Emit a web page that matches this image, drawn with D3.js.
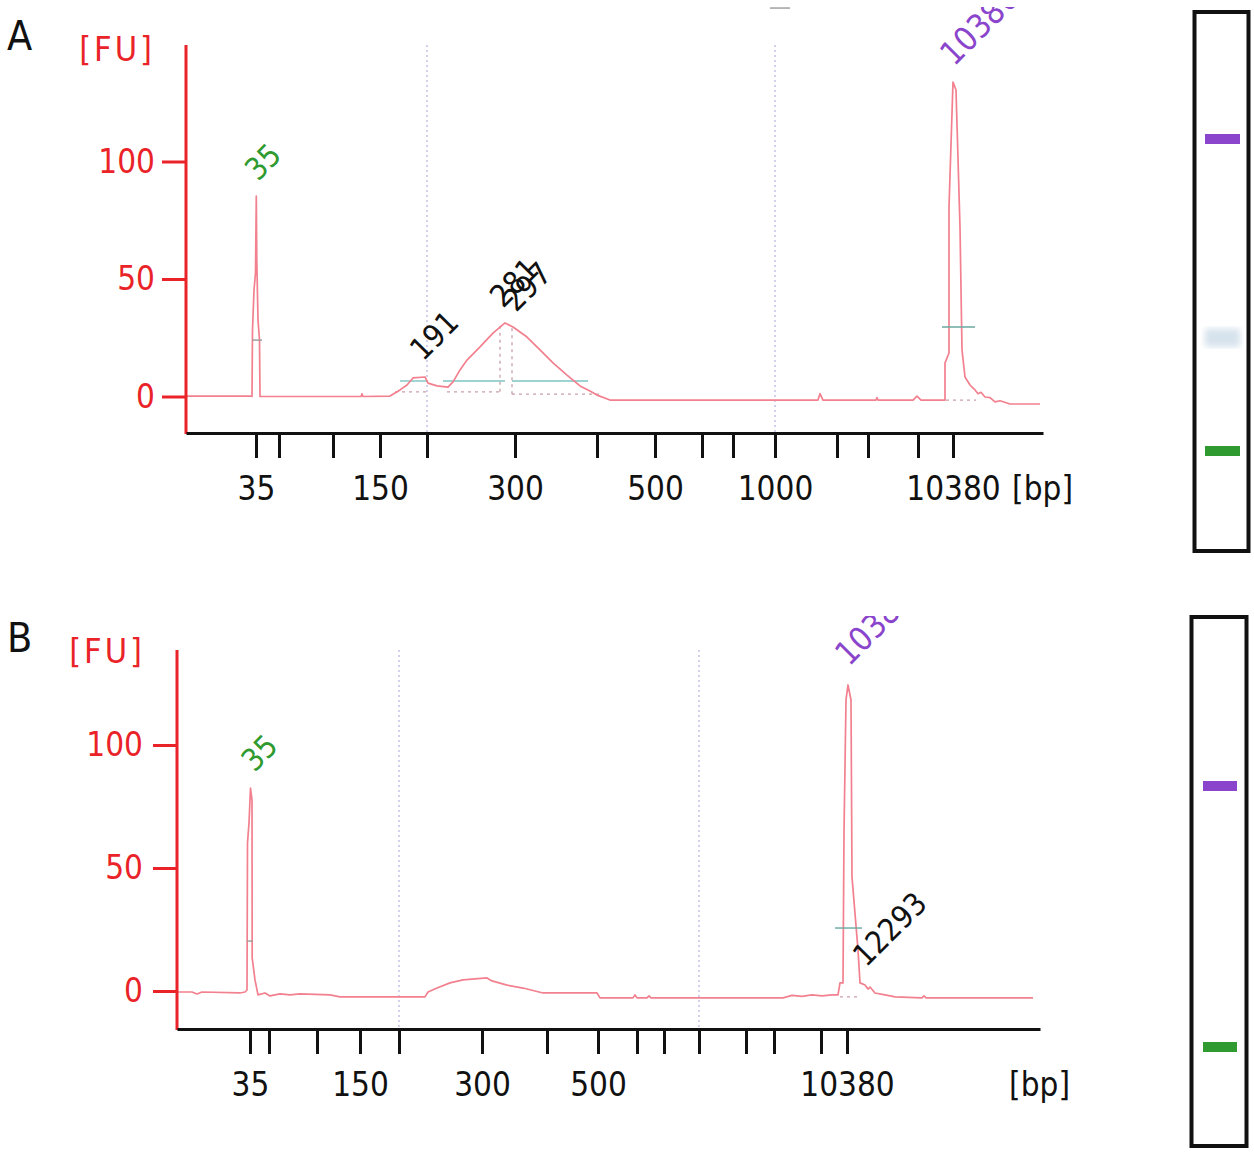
<!DOCTYPE html>
<html>
<head>
<meta charset="utf-8">
<script src="https://cdn.jsdelivr.net/npm/d3@7"></script>
<style>
  body { margin: 0; background: #fff; }
  svg { display: block; font-family: "DejaVu Sans Condensed", "DejaVu Sans", sans-serif; }
</style>
</head>
<body>
<div id="main-container"></div>
<script>
const WIDTH = 1254;
const HEIGHT = 1152;
const RED = '#ea2329';
const TRACE_COLOR = '#f2808f';
const GREEN = '#2f9a2f';
const PURPLE = '#8a45cc';
const GRID_COLOR = '#b4b4e2';
const REGION_COLOR = '#7cc4c4';
const DOT_COLOR = '#c8a0a8';

// ladder (bp) and where each size ran, migration time in s
const LADDER_BP = [35, 50, 100, 150, 200, 300, 400, 500, 600, 700, 1000, 2000, 3000, 7000, 10380];
const LADDER_TIME_A = [47.0, 49.3, 54.7, 59.4, 64.1, 72.9, 81.1, 86.9, 91.6, 94.7, 98.9, 105.1, 108.2, 113.2, 116.7];
const LADDER_TIME_B = [47.3, 49.2, 54.0, 58.3, 62.2, 70.5, 77.0, 82.1, 86.0, 88.7, 92.2, 96.9, 99.7, 104.4, 107.0];
const SHOWN_BP_A = [35, 150, 300, 500, 1000, 10380];
const SHOWN_BP_B = [35, 150, 300, 500, 10380];
const GRID_BP = [200, 1000];
const FU_TICKS = [0, 50, 100];
const TIME_RANGE_A = [40, 125.7];
const TIME_RANGE_B = [40, 126.3];

// electropherogram traces [time s, FU]
const TRACE_A = [
  [40.0, 0.2], [46.4, 0.2], [46.6, 0], [46.65, 28.3], [46.8, 45.3], [46.95, 52.6], [47.03, 85.3],
  [47.08, 58], [47.2, 32.6], [47.35, 24], [47.4, 0], [47.6, 0], [57.5, 0], [57.6, 1.2], [57.7, 0],
  [60.4, 0.2], [60.9, 1.5], [61.4, 2.8], [62.1, 4.9], [62.7, 7.9], [63.9, 8.3], [64.2, 5.7],
  [65.1, 4.5], [66.2, 4.0], [66.7, 6.2], [67.4, 11.3], [68.1, 15.5], [69.4, 21.1], [70.7, 27.0],
  [71.9, 31.3], [72.7, 29.6], [74.1, 25.3], [75.4, 19.8], [76.7, 14.3], [78.1, 9.1], [79.4, 4.5],
  [80.4, 2.3], [81.1, 0.6], [82.4, -1.5], [103.2, -1.5], [103.4, 1.2], [103.7, -1.5],
  [109.0, -1.5], [109.1, -0.5], [109.2, -1.5], [112.7, -1.5], [113.1, 0.2], [113.5, -1.5],
  [115.9, -1.5], [115.9, 14.3], [116.3, 18.5], [116.3, 80.6], [116.7, 133.8], [117.0, 130.4],
  [117.4, 72], [117.6, 19.8], [117.9, 8.3], [118.4, 4.9], [118.9, 2.8], [119.2, 1.2], [119.5, 1.8],
  [119.9, -0.2], [120.4, -0.5], [120.9, -2.3], [121.4, -1.8], [122.4, -3.2], [125.4, -3.2]
];
const TRACE_B = [
  [40.0, -0.4], [41.5, -0.4], [42.0, -1.2], [42.5, -0.4], [46.3, -0.8], [46.8, -0.4], [47.0, 0.4],
  [47.05, 60.2], [47.2, 68.3], [47.35, 82.5], [47.5, 77.6], [47.52, 13.4], [47.8, 4.5], [48.1, -1.6],
  [48.8, -0.8], [49.3, -2.0], [50.3, -1.2], [51.3, -1.6], [52.3, -1.2], [55.3, -1.6], [56.3, -2.4],
  [64.8, -2.4], [65.1, -0.4], [66.0, 1.2], [67.3, 3.3], [68.6, 4.5], [71.0, 5.3], [71.5, 4.1],
  [73.0, 2.4], [74.6, 1.2], [76.6, -0.8], [82.0, -0.8], [82.3, -2.8], [85.6, -2.8], [85.8, -1.6],
  [86.0, -2.8], [87.0, -2.8], [87.2, -2.0], [87.4, -2.8], [100.6, -2.8], [101.5, -1.8], [102.5, -2.2],
  [103.5, -1.6], [104.5, -2.0], [105.5, -1.6], [106.1, -1.6], [106.3, 3.3], [106.6, 3.3], [106.7, 64.2],
  [106.9, 118.3], [107.1, 124.4], [107.4, 118.3], [107.5, 46.3], [108.1, 16.7], [108.3, 3.3],
  [108.8, 2.4], [109.1, 0.8], [109.3, 1.6], [109.8, -0.8], [110.8, -1.6], [111.8, -2.4],
  [114.5, -2.8], [114.7, -2.0], [114.9, -2.8], [125.6, -2.8]
];

// peak calls: label text, time and FU of the label foot, kind
const CALL_TEXT_A = ['35', '191', '281', '297', '10380'];
const CALL_TIME_A = [47.2, 63.7, 71.7, 73.0, 116.8];
const CALL_FU_A = [91.3, 14.7, 37.2, 35.5, 140.2];
const CALL_KIND_A = ['lower', 'peak', 'peak', 'peak', 'upper'];
const CALL_TEXT_B = ['35', '10380', '12293'];
const CALL_TIME_B = [47.75, 107.2, 108.9];
const CALL_FU_B = [88.6, 131.7, 9.3];
const CALL_KIND_B = ['lower', 'upper', 'peak'];

// smear region lines [from, to, FU], peak baselines and width markers
const REGION_A = [[61.4, 64.1, 6.6], [65.7, 71.9, 6.6], [72.6, 80.2, 6.6]];
const BASELINE_A = [[60.9, 64.1, 2.0], [66.1, 71.4, 2.0], [72.6, 81.4, 1.0], [116.0, 119.0, -1.5]];
const DROP_A = [[71.4, 2.0, 31.0], [72.6, 1.0, 29.6]];
const WIDTH_MARK_A = [[46.6, 47.6, 24.0], [115.6, 118.9, 29.6], [98.4, 100.4, 165.3]];
const REGION_B = [];
const BASELINE_B = [[106.3, 108.3, -2.4]];
const DROP_B = [];
const WIDTH_MARK_B = [[47.0, 47.6, 20.3], [105.8, 108.5, 25.6]];

// gel lane bands
const GEL_TIME_A = [47.0, 72.3, 116.7];
const GEL_KIND_A = ['lower', 'smear', 'upper'];
const GEL_TIME_B = [47.3, 107.0];
const GEL_KIND_B = ['lower', 'upper'];

const PANELS = [
  { name: 'A', ladder: LADDER_TIME_A, shown: SHOWN_BP_A, timeRange: TIME_RANGE_A, trace: TRACE_A,
    calls: [CALL_TEXT_A, CALL_TIME_A, CALL_FU_A, CALL_KIND_A],
    region: REGION_A, baseline: BASELINE_A, drop: DROP_A, marks: WIDTH_MARK_A,
    gel: [GEL_TIME_A, GEL_KIND_A],
    x0: 186, x1: 1043, axisY: 433, axisTop: 45, fu0: 396.5, fu100: 161.5, yPad: 7, clipTop: 7,
    letterY: 50, fuLabelX: 155, fuLabelY: 61, bpX: 1073,
    gelBox: [1194.5, 12, 54, 539], gelRange: [451, 139], bandX: [1205, 1240] },
  { name: 'B', ladder: LADDER_TIME_B, shown: SHOWN_BP_B, timeRange: TIME_RANGE_B, trace: TRACE_B,
    calls: [CALL_TEXT_B, CALL_TIME_B, CALL_FU_B, CALL_KIND_B],
    region: REGION_B, baseline: BASELINE_B, drop: DROP_B, marks: WIDTH_MARK_B,
    gel: [GEL_TIME_B, GEL_KIND_B],
    x0: 177, x1: 1040, axisY: 1029, axisTop: 650, fu0: 991, fu100: 745, yPad: 10, clipTop: 616,
    letterY: 652, fuLabelX: 145, fuLabelY: 663, bpX: 1070,
    gelBox: [1191.5, 617, 55, 529], gelRange: [1047, 786], bandX: [1203, 1237] }
];

const SVG = d3.select('#main-container')
  .append('svg')
  .attr('width', WIDTH)
  .attr('height', HEIGHT);

const DEFS = SVG.append('defs');
DEFS.append('filter')
  .attr('id', 'smear-blur')
  .append('feGaussianBlur')
  .attr('stdDeviation', 3);

const callColor = k => k === 'lower' ? GREEN : k === 'upper' ? PURPLE : '#111';

const drawPanel = (p) => {
  DEFS.append('clipPath')
    .attr('id', `clip-${p.name}`)
    .append('rect')
    .attr('x', 0).attr('y', p.clipTop)
    .attr('width', 1180).attr('height', HEIGHT);

  const g = SVG.append('g').attr('clip-path', `url(#clip-${p.name})`);

  const x = d3.scaleLinear().domain(p.timeRange).range([p.x0, p.x1]);
  const y = d3.scaleLinear().domain([0, 100]).range([p.fu0, p.fu100]);
  const fuTop = y.invert(p.axisTop);
  const fuBottom = y.invert(p.axisY);

  // dotted grid lines at 200 and 1000 bp
  g.selectAll('.grid')
    .data(GRID_BP.map(bp => p.ladder[LADDER_BP.indexOf(bp)]))
    .enter()
    .append('line')
    .attr('x1', d => x(d)).attr('x2', d => x(d))
    .attr('y1', y(fuTop)).attr('y2', y(fuBottom))
    .attr('stroke', GRID_COLOR)
    .attr('stroke-width', 1.2)
    .attr('stroke-dasharray', '2,3');

  // peak baselines and drop lines
  g.selectAll('.base')
    .data(p.baseline)
    .enter()
    .append('line')
    .attr('x1', d => x(d[0])).attr('x2', d => x(d[1]))
    .attr('y1', d => y(d[2])).attr('y2', d => y(d[2]))
    .attr('stroke', DOT_COLOR)
    .attr('stroke-width', 1.3)
    .attr('stroke-dasharray', '3,4');

  g.selectAll('.drop')
    .data(p.drop)
    .enter()
    .append('line')
    .attr('x1', d => x(d[0])).attr('x2', d => x(d[0]))
    .attr('y1', d => y(d[1])).attr('y2', d => y(d[2]))
    .attr('stroke', DOT_COLOR)
    .attr('stroke-width', 1.3)
    .attr('stroke-dasharray', '3,4');

  g.selectAll('.region')
    .data(p.region)
    .enter()
    .append('line')
    .attr('x1', d => x(d[0])).attr('x2', d => x(d[1]))
    .attr('y1', d => y(d[2])).attr('y2', d => y(d[2]))
    .attr('stroke', REGION_COLOR)
    .attr('stroke-width', 1.4);

  // trace
  const line = d3.line().x(d => x(d[0])).y(d => y(d[1]));
  g.append('path')
    .datum(p.trace)
    .attr('d', line)
    .attr('fill', 'none')
    .attr('stroke', TRACE_COLOR)
    .attr('stroke-width', 1.7)
    .attr('stroke-linejoin', 'round');

  g.selectAll('.mark')
    .data(p.marks)
    .enter()
    .append('line')
    .attr('x1', d => x(d[0])).attr('x2', d => x(d[1]))
    .attr('y1', d => y(d[2])).attr('y2', d => y(d[2]))
    .attr('stroke', (d, i) => i === 1 ? '#6aa8a0' : '#9a9a9a')
    .attr('stroke-width', 1.4);

  // y axis
  const yAxis = g.append('g')
    .attr('transform', `translate(${p.x0},0)`)
    .call(d3.axisLeft(y).tickValues(FU_TICKS).tickSize(24).tickPadding(p.yPad));
  yAxis.select('.domain').remove();
  yAxis.selectAll('line').attr('stroke', RED).attr('stroke-width', 3);
  yAxis.selectAll('text')
    .attr('fill', RED)
    .style('font-size', '33px')
    .style('font-family', '"DejaVu Sans Condensed", "DejaVu Sans", sans-serif');
  g.append('line')
    .attr('x1', p.x0).attr('x2', p.x0)
    .attr('y1', p.axisTop).attr('y2', p.axisY + 1)
    .attr('stroke', RED)
    .attr('stroke-width', 3);

  // x axis, ticks at the ladder positions
  const xAxis = g.append('g')
    .attr('transform', `translate(0,${p.axisY})`)
    .call(d3.axisBottom(x)
      .tickValues(p.ladder)
      .tickFormat((d, i) => p.shown.includes(LADDER_BP[i]) ? LADDER_BP[i] : '')
      .tickSize(25)
      .tickSizeOuter(0)
      .tickPadding(19));
  xAxis.select('.domain').attr('stroke', '#111').attr('stroke-width', 3);
  xAxis.selectAll('line').attr('stroke', '#111').attr('stroke-width', 3);
  xAxis.selectAll('text')
    .attr('fill', '#111')
    .style('font-size', '33px')
    .style('font-family', '"DejaVu Sans Condensed", "DejaVu Sans", sans-serif');

  g.append('text')
    .attr('x', p.bpX).attr('y', p.axisY + 67)
    .attr('text-anchor', 'end')
    .attr('fill', '#111')
    .style('font-size', '33px')
    .text('[bp]');

  g.append('text')
    .attr('x', p.fuLabelX).attr('y', p.fuLabelY)
    .attr('text-anchor', 'end')
    .attr('fill', RED)
    .style('font-size', '34px')
    .style('letter-spacing', '3px')
    .text('[FU]');

  g.append('text')
    .attr('x', 7).attr('y', p.letterY)
    .attr('fill', '#111')
    .style('font-size', '41px')
    .text(p.name);

  // peak call labels
  const [texts, times, fus, kinds] = p.calls;
  g.selectAll('.call')
    .data(texts)
    .enter()
    .append('text')
    .attr('transform', (d, i) => `translate(${x(times[i])},${y(fus[i])}) rotate(-45)`)
    .attr('fill', (d, i) => callColor(kinds[i]))
    .style('font-size', (d, i) => kinds[i] === 'upper' ? '33px' : '31px')
    .text(d => d);

  // gel lane (outside the clipped plot group)
  const [gx, gy, gw, gh] = p.gelBox;
  const gelY = d3.scaleLinear()
    .domain([p.ladder[0], p.ladder[p.ladder.length - 1]])
    .range(p.gelRange);
  const lane = SVG.append('g');
  lane.append('rect')
    .attr('x', gx).attr('y', gy).attr('width', gw).attr('height', gh)
    .attr('fill', '#fff')
    .attr('stroke', '#111')
    .attr('stroke-width', 4);
  const [gelTimes, gelKinds] = p.gel;
  lane.selectAll('.band')
    .data(gelTimes)
    .enter()
    .append('rect')
    .attr('x', p.bandX[0])
    .attr('width', p.bandX[1] - p.bandX[0])
    .attr('y', (d, i) => gelY(d) - (gelKinds[i] === 'smear' ? 9 : 5))
    .attr('height', (d, i) => gelKinds[i] === 'smear' ? 18 : 10)
    .attr('fill', (d, i) => gelKinds[i] === 'smear' ? '#d6e2ec' : callColor(gelKinds[i]))
    .attr('filter', (d, i) => gelKinds[i] === 'smear' ? 'url(#smear-blur)' : null);
};

PANELS.forEach(drawPanel);
</script>
</body>
</html>
